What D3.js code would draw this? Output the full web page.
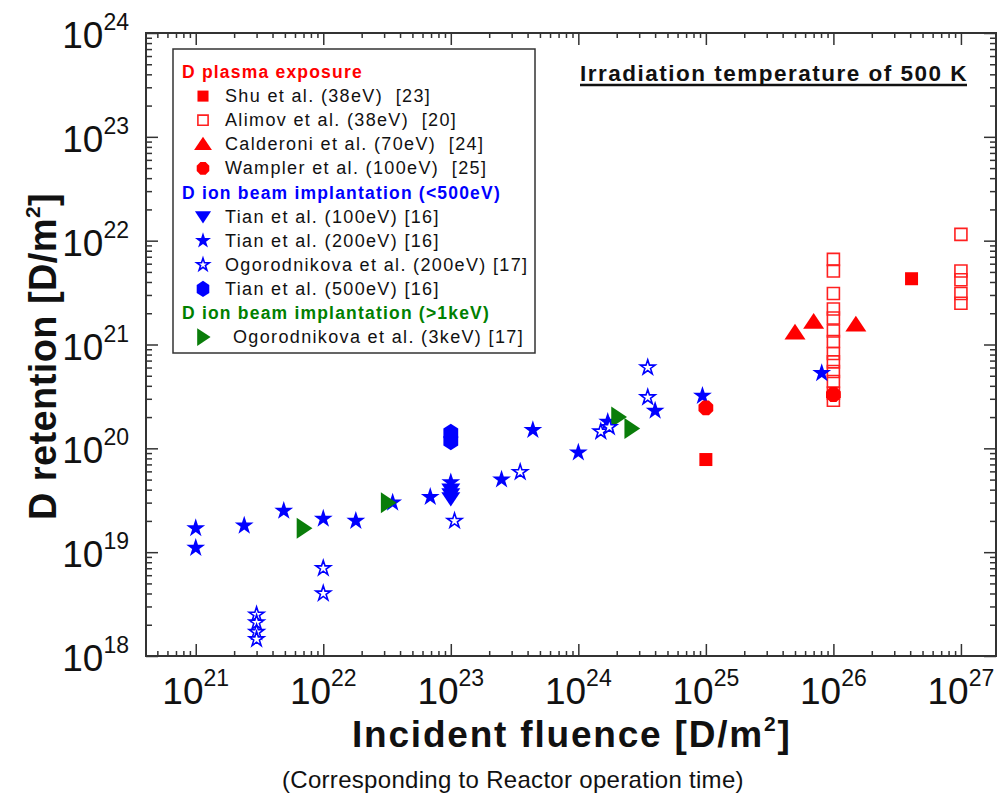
<!DOCTYPE html>
<html>
<head>
<meta charset="utf-8">
<script src="https://cdn.jsdelivr.net/npm/d3@7/dist/d3.min.js"></script>
<style>
  html, body { margin: 0; padding: 0; background: #fff; }
  svg { display: block; }
  text { font-family: "Liberation Sans", Arial, sans-serif; fill: #111; white-space: pre; }
</style>
</head>
<body>
<svg id="chart" width="998" height="794"></svg>
<script>
// ---------- DATA (fluence [D/m2], retention [D/m2]) ----------
const shu = [[1e25, 7.8e19], [4.1e26, 4.3e21]];
const alimov = [
  [1e26, 6.6e21], [1e26, 5.1e21], [1e26, 3.1e21], [1e26, 2.2e21], [1e26, 1.8e21],
  [1e26, 1.35e21], [1e26, 1.07e21], [1e26, 8.2e20], [1e26, 6.8e20], [1e26, 5.5e20],
  [1e26, 4.4e20], [1e26, 3.4e20], [1e26, 2.9e20],
  [1e27, 1.15e22], [1e27, 5.1e21], [1e27, 4.2e21], [1e27, 3.1e21], [1e27, 2.5e21]
];
const calderoni = [[5e25, 1.3e21], [7e25, 1.65e21], [1.5e26, 1.55e21]];
const wampler = [[1e25, 2.45e20], [1e26, 3.3e20]];
const tian100 = [[1e23, 4.0e19], [1e23, 3.6e19], [1e23, 3.3e19]];
const tian200 = [
  [1e21, 1.7e19], [1e21, 1.1e19], [2.4e21, 1.8e19], [4.9e21, 2.5e19], [1e22, 2.1e19],
  [1.8e22, 2.0e19], [3.5e22, 3.0e19], [6.9e22, 3.4e19], [1e23, 4.7e19], [2.5e23, 5.0e19],
  [4.4e23, 1.5e20], [1e24, 9.1e19], [1.7e24, 1.8e20], [4e24, 2.3e20], [9.4e24, 3.2e20],
  [8.1e25, 5.3e20]
];
const ogoro200 = [
  [3e21, 2.5e18], [3e21, 2.1e18], [3e21, 1.7e18], [3e21, 1.45e18],
  [1e22, 7e18], [1e22, 4e18], [1.07e23, 2e19], [3.5e23, 5.9e19],
  [1.5e24, 1.45e20], [1.75e24, 1.6e20], [3.5e24, 6e20], [3.5e24, 3.1e20]
];
const tian500 = [[1e23, 1.4e20], [1e23, 1.18e20]];
const ogoro3k = [[7e21, 1.7e19], [3.2e22, 3e19], [2.05e24, 2e20], [2.6e24, 1.55e20]];

const xTickExps = [21, 22, 23, 24, 25, 26, 27];
const yTickExps = [18, 19, 20, 21, 22, 23, 24];

const legendRows = [
  {type: "head", text: "D plasma exposure", color: "#ff0000"},
  {type: "item", key: "shu", text: "Shu et al. (38eV)  [23]"},
  {type: "item", key: "alimov", text: "Alimov et al. (38eV)  [20]"},
  {type: "item", key: "calderoni", text: "Calderoni et al. (70eV)  [24]"},
  {type: "item", key: "wampler", text: "Wampler et al. (100eV)  [25]"},
  {type: "head", text: "D ion beam implantation (<500eV)", color: "#0000ff"},
  {type: "item", key: "tian100", text: "Tian et al. (100eV) [16]"},
  {type: "item", key: "tian200", text: "Tian et al. (200eV) [16]"},
  {type: "item", key: "ogoro200", text: "Ogorodnikova et al. (200eV) [17]"},
  {type: "item", key: "tian500", text: "Tian et al. (500eV) [16]"},
  {type: "head", text: "D ion beam implantation (>1keV)", color: "#008000"},
  {type: "item", key: "ogoro3k", text: "Ogorodnikova et al. (3keV) [17]"}
];

// ---------- LAYOUT ----------
const svg = d3.select("#chart");
const L = 146, R = 996, T = 33, B = 656;
const x = d3.scaleLog().domain([Math.pow(10, 20.61), Math.pow(10, 27.275)]).range([L, R]);
const y = d3.scaleLog().domain([1e18, 1e24]).range([B, T]);

// custom symbol shapes (r = half-size)
const sq = {draw(c, r) { c.rect(-r, -r, 2 * r, 2 * r); }};
const triUp = {draw(c, r) { c.moveTo(0, -r * 0.85); c.lineTo(r, r * 0.65); c.lineTo(-r, r * 0.65); c.closePath(); }};
const triDown = {draw(c, r) { c.moveTo(-r, -r * 0.65); c.lineTo(r, -r * 0.65); c.lineTo(0, r * 0.85); c.closePath(); }};
const triRight = {draw(c, r) { c.moveTo(-r * 0.65, -r); c.lineTo(r * 0.85, 0); c.lineTo(-r * 0.65, r); c.closePath(); }};
const octa = {draw(c, r) {
  for (let i = 0; i < 8; i++) { const a = Math.PI / 8 + i * Math.PI / 4;
    const px = r * Math.cos(a), py = r * Math.sin(a); i ? c.lineTo(px, py) : c.moveTo(px, py); }
  c.closePath(); }};
const hexa = {draw(c, r) {
  for (let i = 0; i < 6; i++) { const a = -Math.PI / 2 + i * Math.PI / 3;
    const px = r * 0.95 * Math.cos(a), py = r * 1.05 * Math.sin(a); i ? c.lineTo(px, py) : c.moveTo(px, py); }
  c.closePath(); }};

const styles = {
  alimov:    {data: alimov,    type: sq,       size: 6,  fill: "none",    stroke: "#ff2020", sw: 1.6},
  shu:       {data: shu,       type: sq,       size: 6.5, fill: "#ff0000", stroke: "none", sw: 0},
  calderoni: {data: calderoni, type: triUp,    size: 10.5, fill: "#ff0000", stroke: "none", sw: 0},
  tian200:   {data: tian200,   type: d3.symbolStar, size: 110, fill: "#0000ff", stroke: "none", sw: 0, d3sym: true},
  tian100:   {data: tian100,   type: triDown,  size: 9.5, fill: "#0000ff", stroke: "none", sw: 0},
  tian500:   {data: tian500,   type: hexa,     size: 9,  fill: "#0000ff", stroke: "none", sw: 0},
  ogoro3k:   {data: ogoro3k,   type: triRight, size: 10.5, fill: "#0a7d0a", stroke: "none", sw: 0},
  ogoro200:  {data: ogoro200,  type: d3.symbolStar, size: 68, fill: "#ffffff", stroke: "#0000ff", sw: 1.6, d3sym: true},
  wampler:   {data: wampler,   type: octa,     size: 8,  fill: "#ff0000", stroke: "none", sw: 0}
};
const drawOrder = ["alimov", "shu", "calderoni", "tian200", "tian100", "tian500", "ogoro3k", "ogoro200", "wampler"];

// ---------- AXES / TICKS ----------
const axisColor = "#333";
const majorX = xTickExps.map(e => Math.pow(10, e));
const majorY = yTickExps.map(e => Math.pow(10, e));
const minorX = [], minorY = [];
for (let e = 20; e <= 27; e++) for (let m = 2; m <= 9; m++) {
  const v = m * Math.pow(10, e);
  if (v > x.domain()[0] && v < x.domain()[1]) minorX.push(v);
}
for (let e = 18; e < 24; e++) for (let m = 2; m <= 9; m++) minorY.push(m * Math.pow(10, e));

function styleAxis(g) {
  g.select(".domain").remove();
  g.selectAll(".tick line").attr("stroke", axisColor).attr("stroke-width", 1.5);
  g.selectAll(".tick text").remove();
}
svg.append("g").attr("transform", `translate(0,${B})`).call(d3.axisBottom(x).tickValues(majorX).tickSize(-12).tickFormat("")).call(styleAxis);
svg.append("g").attr("transform", `translate(0,${B})`).call(d3.axisBottom(x).tickValues(minorX).tickSize(-5).tickFormat("")).call(styleAxis);
svg.append("g").attr("transform", `translate(0,${T})`).call(d3.axisTop(x).tickValues(majorX).tickSize(-12).tickFormat("")).call(styleAxis);
svg.append("g").attr("transform", `translate(0,${T})`).call(d3.axisTop(x).tickValues(minorX).tickSize(-5).tickFormat("")).call(styleAxis);
svg.append("g").attr("transform", `translate(${L},0)`).call(d3.axisLeft(y).tickValues(majorY).tickSize(-12).tickFormat("")).call(styleAxis);
svg.append("g").attr("transform", `translate(${L},0)`).call(d3.axisLeft(y).tickValues(minorY).tickSize(-6).tickFormat("")).call(styleAxis);
svg.append("g").attr("transform", `translate(${R},0)`).call(d3.axisRight(y).tickValues(majorY).tickSize(-12).tickFormat("")).call(styleAxis);
svg.append("g").attr("transform", `translate(${R},0)`).call(d3.axisRight(y).tickValues(minorY).tickSize(-6).tickFormat("")).call(styleAxis);

svg.append("rect").attr("x", L).attr("y", T).attr("width", R - L).attr("height", B - T)
  .attr("fill", "none").attr("stroke", axisColor).attr("stroke-width", 2);

// tick labels
const xl = svg.append("g");
xTickExps.forEach(e => {
  const t = xl.append("text").attr("x", x(Math.pow(10, e))).attr("y", 704).attr("text-anchor", "middle");
  t.append("tspan").attr("font-size", 37).text("10");
  t.append("tspan").attr("font-size", 23).attr("dy", -18).text(e);
});
const yl = svg.append("g");
yTickExps.forEach(e => {
  const t = yl.append("text").attr("x", 129).attr("y", y(Math.pow(10, e)) + 15).attr("text-anchor", "end");
  t.append("tspan").attr("font-size", 37).text("10");
  t.append("tspan").attr("font-size", 23).attr("dy", -18).text(e);
});

// axis titles
const xt = svg.append("text").attr("x", 352).attr("y", 747).attr("text-anchor", "start")
  .attr("font-weight", "bold").attr("font-size", 37).attr("letter-spacing", 1.8);
xt.append("tspan").text("Incident fluence [D/m");
xt.append("tspan").attr("font-size", 21).attr("dy", -16).text("2");
xt.append("tspan").attr("dy", 16).text("]");

svg.append("text").attr("x", 282).attr("y", 788).attr("text-anchor", "start").attr("font-size", 24)
  .attr("letter-spacing", 0.3).text("(Corresponding to Reactor operation time)");

const yt = svg.append("text").attr("transform", "translate(56,520) rotate(-90)").attr("text-anchor", "start")
  .attr("font-weight", "bold").attr("font-size", 38).attr("letter-spacing", 0.4);
yt.append("tspan").text("D retention [D/m");
yt.append("tspan").attr("font-size", 21).attr("dy", -16).text("2");
yt.append("tspan").attr("dy", 16).text("]");

// annotation
svg.append("text").attr("x", 580).attr("y", 81).attr("font-weight", "bold").attr("font-size", 22.5)
  .attr("letter-spacing", 1.5).text("Irradiation temperature of 500 K");
svg.append("line").attr("x1", 580).attr("x2", 967).attr("y1", 85).attr("y2", 85)
  .attr("stroke", "#111").attr("stroke-width", 2.5);

// ---------- MARKS ----------
function symPath(s, scale) {
  return s.d3sym ? d3.symbol().type(s.type).size(s.size * scale * scale)() :
                   d3.symbol().type(s.type).size(s.size * scale)();
}
const marks = svg.append("g");
drawOrder.forEach(k => {
  const s = styles[k];
  marks.append("g").selectAll("path").data(s.data).join("path")
    .attr("transform", d => `translate(${x(d[0])},${y(d[1])})`)
    .attr("d", symPath(s, 1))
    .attr("fill", s.fill).attr("stroke", s.stroke).attr("stroke-width", s.sw);
});

// ---------- LEGEND ----------
const lg = svg.append("g");
lg.append("rect").attr("x", 173).attr("y", 49).attr("width", 362).attr("height", 304)
  .attr("fill", "#fff").attr("stroke", "#333").attr("stroke-width", 1.5);
legendRows.forEach((r, i) => {
  const yy = 72 + i * 24.1;
  if (r.type === "head") {
    lg.append("text").attr("x", 182).attr("y", yy + 6).attr("font-weight", "bold").attr("font-size", 17.5)
      .attr("letter-spacing", 1.2).style("fill", r.color).text(r.text);
  } else {
    const s = styles[r.key];
    lg.append("path").attr("transform", `translate(203,${yy})`).attr("d", symPath(s, 0.85))
      .attr("fill", s.fill).attr("stroke", s.stroke).attr("stroke-width", s.sw);
    lg.append("text").attr("x", r.key === "ogoro3k" ? 233 : 225).attr("y", yy + 6).attr("font-size", 18)
      .attr("letter-spacing", 1.35).text(r.text);
  }
});
</script>
</body>
</html>
